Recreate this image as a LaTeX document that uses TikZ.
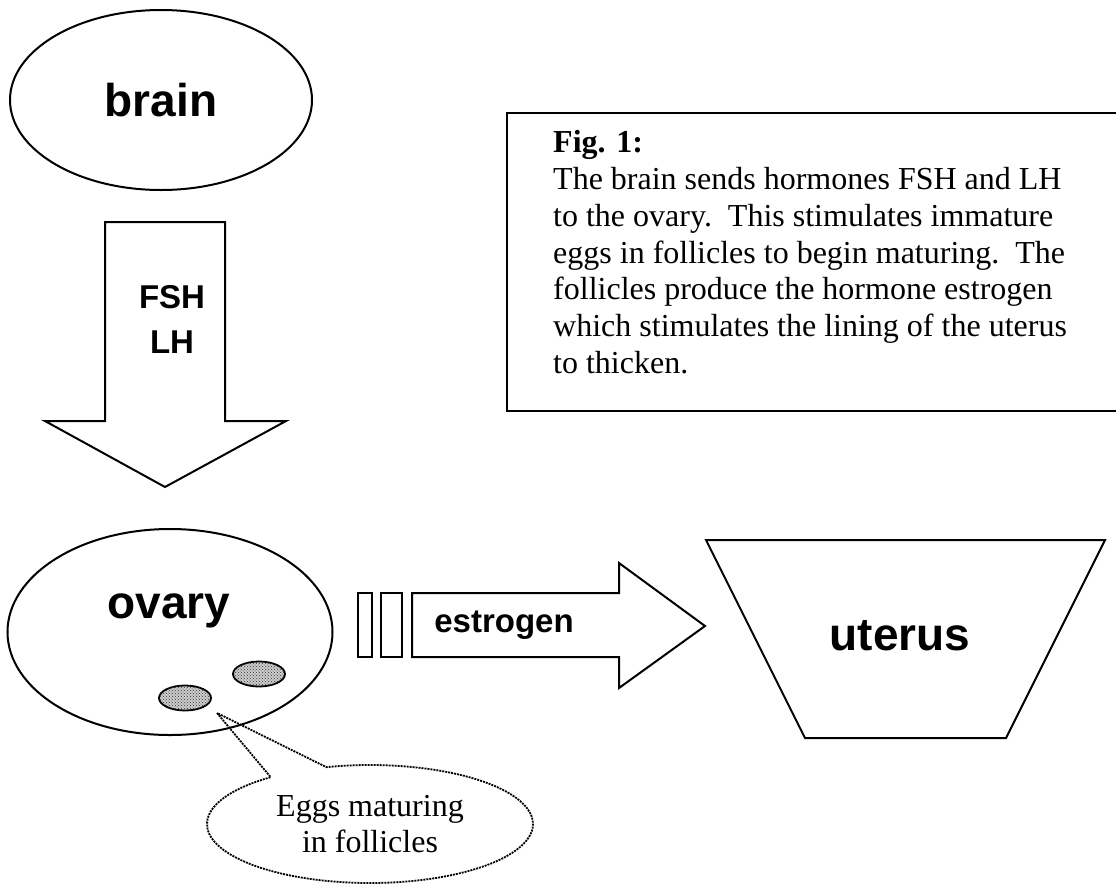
\documentclass[tikz,border=0pt]{standalone}
\usepackage{fontspec}
\setmainfont{Liberation Serif}
\setsansfont{Liberation Sans}
\usetikzlibrary{shapes.geometric,shapes.callouts,positioning,patterns}

\tikzset{
  organ/.style={ellipse, draw, line width=2pt, inner sep=0pt},
  biglabel/.style={font=\sffamily\bfseries\fontsize{46}{50}\selectfont, inner sep=0pt},
  hormone/.style={font=\sffamily\bfseries\fontsize{33}{45}\selectfont, inner sep=0pt},
  blockarrow/.style={draw, line width=2pt, line join=miter},
  follicle/.style={ellipse, draw, line width=1.8pt, fill=gray!40,
    postaction={pattern=crosshatch dots, pattern color=black!80},
    minimum width=52pt, minimum height=25pt, inner sep=0pt},
  bubble/.style={ellipse callout, draw, line width=1.8pt, dash pattern=on 2pt off 1pt,
    callout pointer arc=22, minimum width=326pt, minimum height=118pt,
    inner sep=0pt, align=center, font=\fontsize{32}{36.7}\selectfont},
  figtext/.style={align=left, inner sep=0pt, font=\fontsize{32}{36.7}\selectfont}
}

\begin{document}
\begin{tikzpicture}[x=1pt,y=-1pt]
  \useasboundingbox (0,0) rectangle (1116,884);

  % brain and the FSH/LH arrow
  \node[organ, minimum width=302pt, minimum height=180pt, biglabel] (brain) at (161,100) {brain};
  \draw[blockarrow] (105,222) -- (225,222) -- (225,421) -- (286,421) -- (165,487)
    -- (45,421) -- (105,421) -- cycle;
  \node[hormone, anchor=base] (fsh) at (172,308) {FSH};
  \node[hormone, anchor=base] (lh) at (172,353) {LH};

  % caption box
  \draw[line width=2pt] (507,113) rectangle (1130,411);
  \node[figtext, anchor=north west] (caption) at (553,130.5) {%
    \textbf{Fig. 1:}\\
    The brain sends hormones FSH and LH\\
    to the ovary.\ \ This stimulates immature\\
    eggs in follicles to begin maturing.\ \ The\\
    follicles produce the hormone estrogen\\
    which stimulates the lining of the uterus\\
    to thicken.};

  % ovary with follicles
  \node[organ, minimum width=325pt, minimum height=206pt] (ovary) at (170,632) {};
  \node[biglabel, anchor=base] (ovarylabel) at (169,618) {ovary};
  \node[follicle] (fol1) at (185,698) {};
  \node[follicle] (fol2) at (259,674) {};

  % estrogen arrow
  \draw[blockarrow] (358,593) rectangle (372,657);
  \draw[blockarrow] (381,593) rectangle (402,657);
  \draw[blockarrow] (412,593) -- (619,593) -- (619,563) -- (705,626) -- (619,688)
    -- (619,657) -- (412,657) -- cycle;
  \node[hormone, anchor=base] (estrogen) at (504,632) {estrogen};

  % uterus
  \draw[blockarrow] (706,540) -- (1105,540) -- (1006,738) -- (805,738) -- cycle;
  \node[biglabel, anchor=base] (uterus) at (900,650) {uterus};

  % note on the follicles
  \coordinate (eggtip) at (217,713);
  \node[bubble, callout absolute pointer=(eggtip)] (eggnote) at (370,824)
    {Eggs maturing\\in follicles};
\end{tikzpicture}
\end{document}
